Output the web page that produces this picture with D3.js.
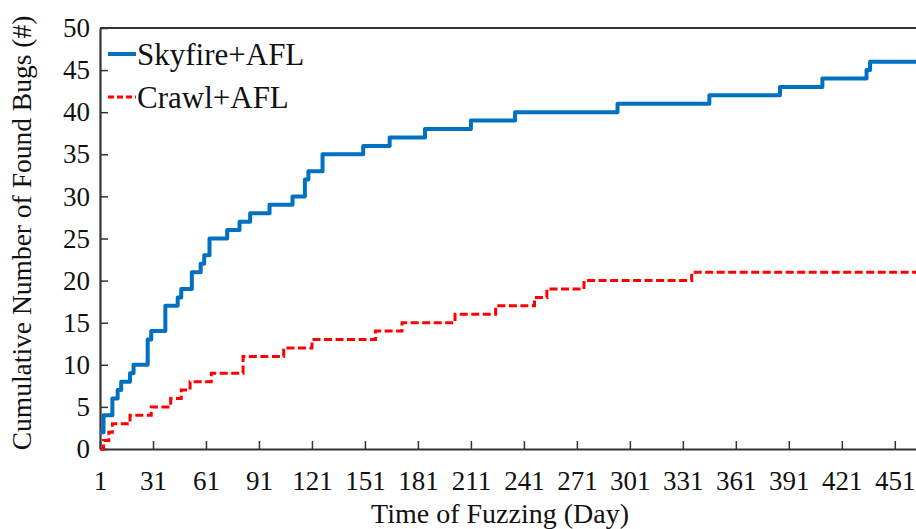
<!DOCTYPE html>
<html>
<head>
<meta charset="utf-8">
<script src="https://cdn.jsdelivr.net/npm/d3@7"></script>
<style>
  html, body { margin: 0; padding: 0; background: #fff; }
  svg { display: block; font-family: "Liberation Serif", "Times New Roman", serif; }
</style>
</head>
<body>
<svg id="chart" width="916" height="529"></svg>
<script>
// Days at which the cumulative count changes, and the count from that day on
const skyfireDays   = [1, 3, 8, 11, 13, 18, 20, 28, 30, 38, 45, 47, 53, 58, 60, 63, 73, 80, 86, 97, 110, 117, 119, 127, 150, 165, 185, 211, 236, 294, 346, 386, 410, 435, 437, 463];
const skyfireValues = [2, 4, 6, 7, 8, 9, 10, 13, 14, 17, 18, 19, 21, 22, 23, 25, 26, 27, 28, 29, 30, 32, 33, 35, 36, 37, 38, 39, 40, 41, 42, 43, 44, 45, 46, 46];

const crawlDays   = [1, 3, 6, 8, 18, 30, 41, 47, 52, 64, 82, 105, 121, 157, 172, 202, 225, 247, 254, 275, 336, 463];
const crawlValues = [0, 1, 2, 3, 4, 5, 6, 7, 8, 9, 11, 12, 13, 14, 15, 16, 17, 18, 19, 20, 21, 21];

const xTickValues = [1, 31, 61, 91, 121, 151, 181, 211, 241, 271, 301, 331, 361, 391, 421, 451];
const yTickValues = [0, 5, 10, 15, 20, 25, 30, 35, 40, 45, 50];

const seriesNames = ["Skyfire+AFL", "Crawl+AFL"];
const xTitle = "Time of Fuzzing (Day)";
const yTitle = "Cumulative Number of Found Bugs (#)";

const svg = d3.select("#chart");
const plotLeft = 100, plotRight = 916, plotTop = 28, plotBottom = 449;
const axisColor = "#333";
const serif = "'Liberation Serif', 'Times New Roman', serif";

const x = d3.scaleLinear().domain([1, 463]).range([plotLeft, plotRight]);
const y = d3.scaleLinear().domain([0, 50]).range([plotBottom, plotTop]);

// top border of the plot area
svg.append("line")
  .attr("x1", plotLeft).attr("x2", plotRight)
  .attr("y1", plotTop).attr("y2", plotTop)
  .attr("stroke", axisColor).attr("stroke-width", 2);

// x axis with inward ticks
const gx = svg.append("g")
  .attr("transform", `translate(0,${plotBottom})`)
  .call(d3.axisBottom(x).tickValues(xTickValues).tickSizeInner(-8).tickSizeOuter(0).tickFormat(d3.format("d")));
gx.select(".domain").attr("stroke", axisColor).attr("stroke-width", 2.2);
gx.selectAll(".tick line").attr("stroke", axisColor).attr("stroke-width", 1.5);
gx.selectAll(".tick text")
  .attr("y", 41).attr("dy", null)
  .attr("fill", "#111")
  .style("font-size", "27px")
  .style("font-family", serif);

// y axis with inward ticks
const gy = svg.append("g")
  .attr("transform", `translate(${plotLeft},0)`)
  .call(d3.axisLeft(y).tickValues(yTickValues).tickSizeInner(-8).tickSizeOuter(0).tickPadding(10));
gy.select(".domain").attr("stroke", axisColor).attr("stroke-width", 2.2);
gy.selectAll(".tick line").attr("stroke", axisColor).attr("stroke-width", 1.5);
gy.selectAll(".tick text")
  .attr("fill", "#111")
  .style("font-size", "27px")
  .style("font-family", serif);

// axis titles
svg.append("text")
  .attr("x", 500).attr("y", 523)
  .attr("text-anchor", "middle")
  .attr("fill", "#111")
  .style("font-family", serif)
  .style("font-size", "28px")
  .text(xTitle);

svg.append("text")
  .attr("transform", `translate(31,233) rotate(-90)`)
  .attr("text-anchor", "middle")
  .attr("fill", "#111")
  .style("font-family", serif)
  .style("font-size", "27.5px")
  .text(yTitle);

// step lines
const line = d3.line()
  .x(d => x(d[0]))
  .y(d => y(d[1]))
  .curve(d3.curveStepAfter);

svg.append("clipPath").attr("id", "plotClip")
  .append("rect")
  .attr("x", plotLeft).attr("y", plotTop - 4)
  .attr("width", plotRight - plotLeft).attr("height", plotBottom - plotTop + 6);

svg.append("path")
  .datum(d3.zip(crawlDays, crawlValues))
  .attr("clip-path", "url(#plotClip)")
  .attr("fill", "none")
  .attr("stroke", "#FF0000")
  .attr("stroke-width", 3)
  .attr("stroke-dasharray", "8,3.5")
  .attr("d", line);

svg.append("path")
  .datum(d3.zip(skyfireDays, skyfireValues))
  .attr("clip-path", "url(#plotClip)")
  .attr("fill", "none")
  .attr("stroke", "#0070C0")
  .attr("stroke-width", 4)
  .attr("stroke-linejoin", "round")
  .attr("d", line);

// legend
const legend = svg.append("g");
const legendItems = [
  { name: seriesNames[0], color: "#0070C0", width: 4, dash: null, y: 54 },
  { name: seriesNames[1], color: "#FF0000", width: 3, dash: "6,3", y: 97 }
];
legendItems.forEach(it => {
  legend.append("line")
    .attr("x1", 108).attr("x2", 136)
    .attr("y1", it.y).attr("y2", it.y)
    .attr("stroke", it.color)
    .attr("stroke-width", it.width)
    .attr("stroke-dasharray", it.dash);
  legend.append("text")
    .attr("x", 137).attr("y", it.y + 11)
    .attr("fill", "#111")
    .style("font-family", serif)
    .style("font-size", "31px")
    .text(it.name);
});
</script>
</body>
</html>
